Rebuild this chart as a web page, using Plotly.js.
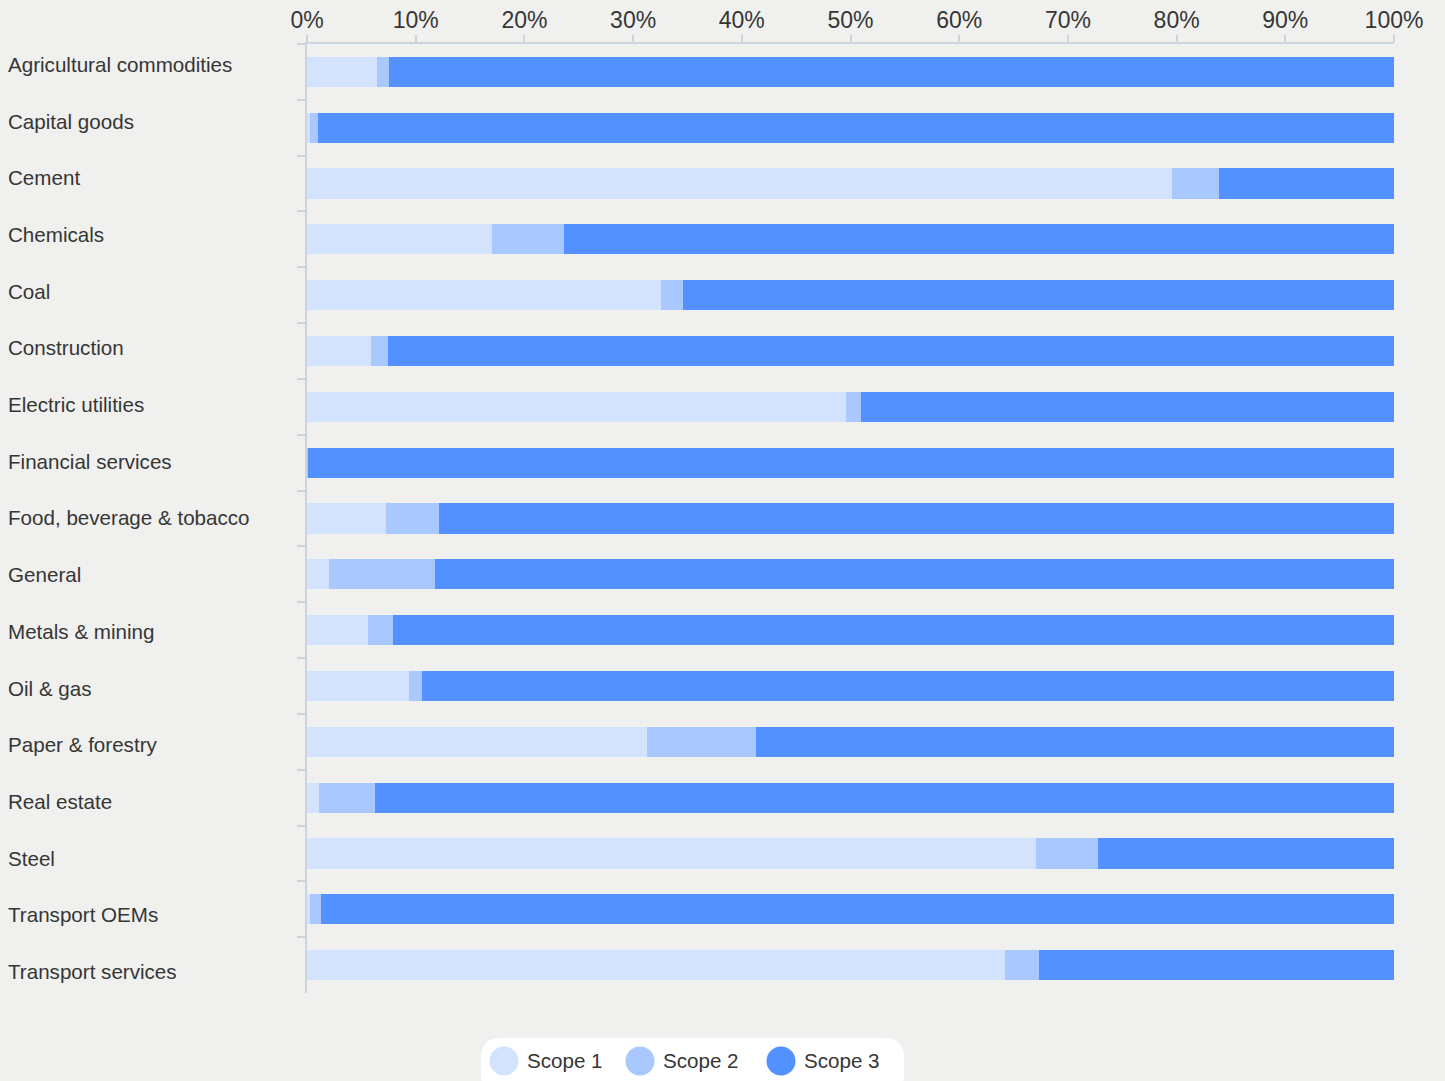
<!DOCTYPE html>
<html>
<head>
<meta charset="utf-8">
<script src="https://cdn.plot.ly/plotly-3.0.1.min.js"></script>
<style>
  html, body { margin: 0; padding: 0; background: #f0f0ee; }
  #chart { width: 1445px; height: 1081px; }
</style>
</head>
<body>
<div id="chart"></div>
<script>
// ---- Data (percent shares of emissions by scope) ----
const categories = [
  "Agricultural commodities", "Capital goods", "Cement", "Chemicals", "Coal",
  "Construction", "Electric utilities", "Financial services",
  "Food, beverage & tobacco", "General", "Metals & mining", "Oil & gas",
  "Paper & forestry", "Real estate", "Steel", "Transport OEMs", "Transport services"
];
const scope1 = [6.4, 0.3, 79.6, 17.0, 32.6, 5.9, 49.6, 0.0, 7.3, 2.0, 5.6, 9.4, 31.3, 1.1, 67.1, 0.3, 64.2];
const scope2 = [1.15, 0.7, 4.3, 6.6, 2.0, 1.55, 1.4, 0.05, 4.8, 9.8, 2.3, 1.2, 10.0, 5.2, 5.7, 1.0, 3.1];
const scope3 = [92.45, 99.0, 16.1, 76.4, 65.4, 92.55, 49.0, 99.95, 87.9, 88.2, 92.1, 89.4, 58.7, 93.7, 27.2, 98.7, 32.7];
const seriesNames = ["Scope 1", "Scope 2", "Scope 3"];
const seriesColors = ["#d4e3fd", "#a9c8ff", "#5291ff"];
const xTickVals = [0, 10, 20, 30, 40, 50, 60, 70, 80, 90, 100];

// ---- Layout geometry ----
const W = 1445, H = 1081;
const M = { l: 307, r: 51, t: 44, b: 88 };
const PW = W - M.l - M.r, PH = H - M.t - M.b;
const px2x = px => (px - M.l) / PW;
const py2y = py => (H - M.b - py) / PH;

const FONT = "Liberation Sans, Arial, Helvetica, sans-serif";
const TEXT = "#363636";
const AXIS = "#cbd5de";

const seriesValues = [scope1, scope2, scope3];
const traces = seriesValues.map((vals, k) => ({
  type: "bar",
  orientation: "h",
  name: seriesNames[k],
  y: categories,
  x: vals,
  marker: { color: seriesColors[k], line: { width: 0 } },
  showlegend: false,
  hovertemplate: "%{y}<br>" + seriesNames[k] + ": %{x:.1f}%<extra></extra>"
}));

// Category labels, left-aligned
const annotations = categories.map((c, i) => ({
  xref: "paper", yref: "y",
  x: px2x(6), y: c,
  xanchor: "left", yanchor: "middle",
  yshift: 7.4 - 0.86 * i,
  text: c, showarrow: false,
  font: { family: FONT, size: 20.6, color: TEXT }
}));

// Manual legend
const shapes = [];
const boxL = 481, boxR = 904, boxT = 1038, boxB = 1095, rad = 20;
const bx0 = px2x(boxL), bx1 = px2x(boxR), by0 = py2y(boxT), by1 = py2y(boxB);
const rx = rad / PW, ry = rad / PH;
shapes.push({
  type: "path", xref: "paper", yref: "paper",
  path: `M ${bx0 + rx} ${by0} L ${bx1 - rx} ${by0} Q ${bx1} ${by0} ${bx1} ${by0 - ry} ` +
        `L ${bx1} ${by1 + ry} Q ${bx1} ${by1} ${bx1 - rx} ${by1} L ${bx0 + rx} ${by1} ` +
        `Q ${bx0} ${by1} ${bx0} ${by1 + ry} L ${bx0} ${by0 - ry} Q ${bx0} ${by0} ${bx0 + rx} ${by0} Z`,
  fillcolor: "#ffffff", line: { width: 0 }, layer: "below"
});
const legCircleX = [504, 640, 781];
const legTextX = [525, 661, 802];
const legY = 1060;
seriesNames.forEach((n, k) => {
  shapes.push({
    type: "circle", xref: "paper", yref: "paper",
    xsizemode: "pixel", ysizemode: "pixel",
    xanchor: px2x(legCircleX[k]), yanchor: py2y(1061),
    x0: -14.5, x1: 14.5, y0: -14.5, y1: 14.5,
    fillcolor: seriesColors[k], line: { width: 0 }
  });
  annotations.push({
    xref: "paper", yref: "paper",
    x: px2x(legTextX[k]), y: py2y(legY),
    xanchor: "left", yanchor: "middle",
    text: n, showarrow: false,
    font: { family: FONT, size: 20.6, color: TEXT }
  });
});

const layout = {
  width: W, height: H,
  margin: M,
  paper_bgcolor: "#f0f0ee",
  plot_bgcolor: "#f0f0ee",
  barmode: "stack",
  bargap: 0.46,
  showlegend: false,
  font: { family: FONT, color: TEXT },
  xaxis: {
    side: "top",
    range: [0, 100],
    tickvals: xTickVals,
    ticktext: xTickVals.map(v => v + "%"),
    showgrid: false, zeroline: false,
    showline: true, linecolor: AXIS, linewidth: 1.5,
    ticks: "outside", ticklen: 7, tickcolor: AXIS, tickwidth: 1.5,
    ticklabelstandoff: -2,
    tickfont: { family: FONT, size: 23, color: TEXT },
    fixedrange: true
  },
  yaxis: {
    type: "category",
    categoryorder: "array", categoryarray: categories,
    autorange: "reversed",
    showticklabels: false,
    showgrid: false, zeroline: false,
    showline: true, linecolor: AXIS, linewidth: 1.5,
    ticks: "outside", tickson: "boundaries", ticklen: 8, tickcolor: AXIS, tickwidth: 1.5,
    fixedrange: true
  },
  annotations: annotations,
  shapes: shapes
};

Plotly.newPlot("chart", traces, layout, { displayModeBar: false });
</script>
</body>
</html>
